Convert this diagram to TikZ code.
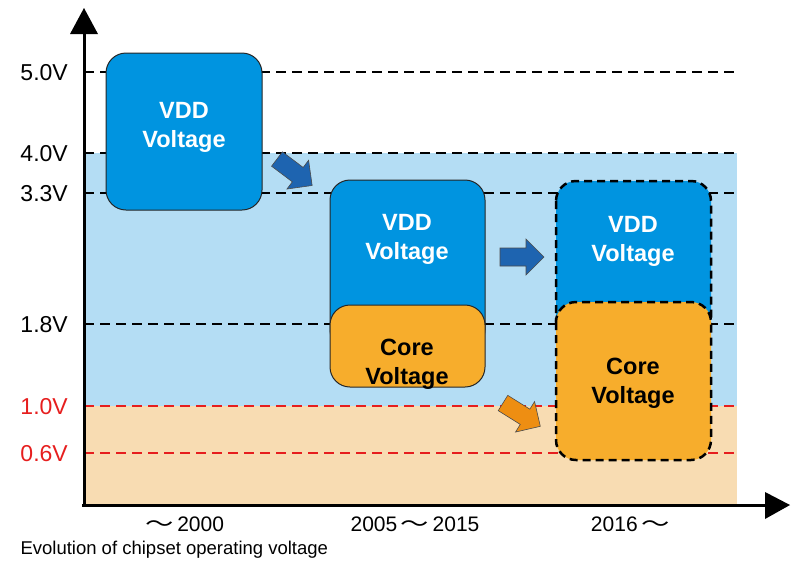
\documentclass[tikz,border=0pt]{standalone}
\usepackage{fontspec}
\setmainfont{Liberation Sans}
\newfontfamily\cjk{Noto Sans CJK SC}
\definecolor{vddblue}{RGB}{0,148,224}
\definecolor{bgblue}{RGB}{180,221,244}
\definecolor{bgtan}{RGB}{248,220,178}
\definecolor{coreor}{RGB}{247,173,44}
\definecolor{arrblue}{RGB}{30,100,176}
\definecolor{arror}{RGB}{238,142,18}
\definecolor{vred}{RGB}{230,30,30}
\newcommand\wave{\,\scalebox{1.35}[1]{\cjk\fontsize{21}{21}\selectfont ～}\,}
\tikzset{
  level/.style={line width=2pt, dash pattern=on 10pt off 6pt},
  solidbox/.style={draw=black!85, line width=1pt, rounded corners=20pt},
  dashbox/.style={draw=black, line width=2.5pt, dash pattern=on 8pt off 5pt, rounded corners=20pt},
  boxtext/.style={font=\fontsize{23.5}{29}\selectfont\bfseries, align=center},
  ylab/.style={anchor=east, inner sep=0pt, font=\fontsize{23}{26}\selectfont},
  xlab/.style={anchor=center, font=\fontsize{21}{24}\selectfont},
  blockarr/.style={draw=black!70, line width=0.6pt},
}
\newcommand\blockarrow[4]{%
  \begin{scope}[shift={(#1,#2)}, rotate=#3]
    \filldraw[blockarr, fill=#4] (0,-9) -- (26,-9) -- (26,-18) -- (44,0) -- (26,18) -- (26,9) -- (0,9) -- cycle;
  \end{scope}}
\begin{document}
\begin{tikzpicture}[x=1pt,y=-1pt]
\useasboundingbox (0,0) rectangle (800,566);
% backgrounds
\fill[bgblue] (84,153) rectangle (737,406);
\fill[bgtan] (84,406) rectangle (737,505);
% level lines
\coordinate (l50a) at (84,72); \coordinate (l50b) at (740,72);
\coordinate (l40a) at (84,153); \coordinate (l40b) at (740,153);
\coordinate (l33a) at (84,193); \coordinate (l33b) at (740,193);
\coordinate (l18a) at (84,324); \coordinate (l18b) at (740,324);
\coordinate (l10a) at (84,406); \coordinate (l10b) at (740,406);
\coordinate (l06a) at (84,453); \coordinate (l06b) at (740,453);
\draw[level] (l50a) -- (l50b);
\draw[level] (l40a) -- (l40b);
\draw[level] (l33a) -- (l33b);
\draw[level] (l18a) -- (l18b);
\draw[level, vred] (l10a) -- (l10b);
\draw[level, vred] (l06a) -- (l06b);
% y labels
\node[ylab] (t50) at (68,73) {5.0V};
\node[ylab] (t40) at (68,154) {4.0V};
\node[ylab] (t33) at (68,194) {3.3V};
\node[ylab] (t18) at (68,325) {1.8V};
\node[ylab, text=vred] (t10) at (68,407) {1.0V};
\node[ylab, text=vred] (t06) at (68,454) {0.6V};
% boxes
\filldraw[solidbox, fill=vddblue] (106,53) rectangle (262,210);
\node[boxtext, text=white] (v1) at (184,127) {VDD\\Voltage};
\filldraw[solidbox, fill=vddblue] (330,180) rectangle (485,350);
\node[boxtext, text=white] (v2) at (407,239) {VDD\\Voltage};
\filldraw[solidbox, fill=coreor] (330,305) rectangle (485,387);
\node[boxtext, text=black] (c2) at (407,364) {Core\\Voltage};
\filldraw[dashbox, fill=vddblue] (556,181) rectangle (711,340);
\node[boxtext, text=white] (v3) at (633,241) {VDD\\Voltage};
\filldraw[dashbox, fill=coreor] (556,302) rectangle (711,460);
\node[boxtext, text=black] (c3) at (633,383) {Core\\Voltage};
% block arrows
\blockarrow{277}{159}{-37}{arrblue}
\blockarrow{500}{257}{0}{arrblue}
\blockarrow{503}{403}{-32}{arror}
% axes
\coordinate (o) at (84,505);
\draw[line width=3pt] (84,507) -- (84,30);
\draw[line width=3pt] (82,505) -- (770,505);
\fill (70,34) -- (84,8) -- (98,34) -- cycle;
\fill (765,492) -- (790,505) -- (765,519) -- cycle;
% x labels
\node[xlab] (x1) at (183,524) {\wave2000};
\node[xlab] (x2) at (415,524) {2005\wave2015};
\node[xlab] (x3) at (632,524) {2016\wave};
\node[anchor=west, font=\fontsize{18.5}{22}\selectfont] (cap) at (17,550) {Evolution of chipset operating voltage};
\end{tikzpicture}
\end{document}
